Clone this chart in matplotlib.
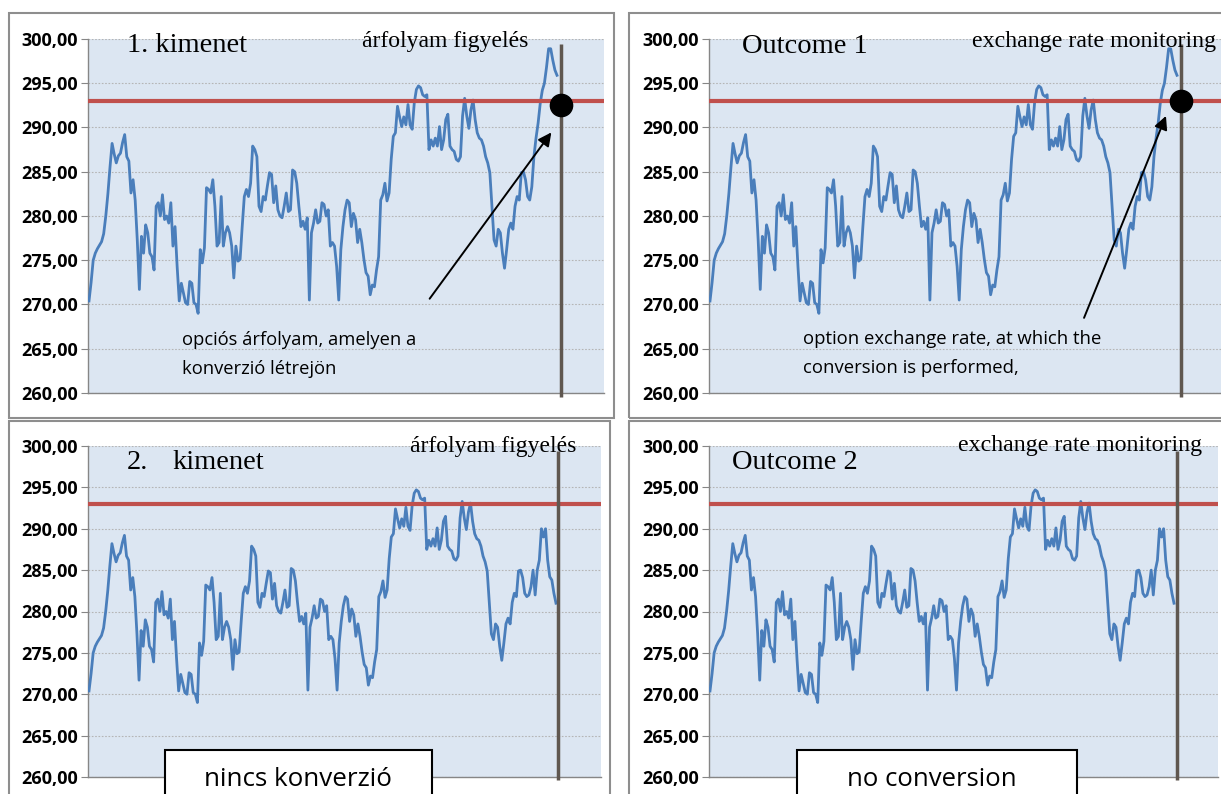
import numpy as np
import matplotlib
matplotlib.use('Agg')
import matplotlib.pyplot as plt
from matplotlib.patches import Rectangle

W, H = 1221, 794

# exchange rate series (shared part of the four panels)
common = [270.4, 272.5, 275.0, 275.8, 276.3, 276.7, 277.1, 278.0, 280.0, 282.5, 285.5, 288.2,
          287.0, 286.0, 286.8, 287.1, 288.3, 289.2, 286.7, 286.2, 282.6, 284.1,
          281.8, 277.3, 271.7, 277.7, 275.8, 279.0, 278.1, 275.8, 275.4, 273.9, 281.1, 281.5,
          280.0, 282.4, 279.6, 280.0, 279.2, 281.5, 276.6, 278.8, 274.3, 270.4, 272.4, 271.3,
          270.2, 270.0, 272.6, 272.4, 270.2, 270.0, 269.0, 276.2, 274.7, 276.4, 283.2, 283.0,
          282.6, 284.1, 281.1, 276.6, 277.0, 282.2, 276.6, 278.1, 278.8, 278.1, 276.6, 273.0,
          276.6, 274.9, 275.1, 278.8, 282.2, 283.0, 282.2, 283.7, 287.9, 287.5, 286.7, 281.1,
          280.5, 282.2, 281.8, 283.4, 284.9, 284.7, 281.5, 283.4, 280.7, 280.0, 279.8, 281.1,
          282.6, 280.5, 280.7, 285.2, 285.0, 283.7, 281.1, 278.8, 279.4, 278.5, 279.8, 270.5,
          278.1, 279.2, 280.7, 279.2, 279.4, 281.5, 281.3, 280.0, 280.7, 276.6, 277.0, 276.6,
          274.3, 270.5, 276.2, 278.8, 280.7, 281.8, 281.5, 278.8, 280.3, 279.6, 277.0, 278.5,
          277.0, 275.1, 273.6, 273.2, 271.1, 272.2, 272.0, 273.9, 275.4, 281.8, 282.4, 283.7,
          281.7, 282.6, 286.4, 289.0, 289.4, 292.4, 291.2, 290.1, 291.2, 290.3, 292.6, 290.3,
          289.8, 292.8, 294.3, 294.7, 294.5, 293.7, 293.5, 293.7, 287.5, 288.6, 287.9, 288.8,
          287.9, 290.1, 287.5, 288.6, 290.9, 291.5, 287.9, 287.5, 287.3, 286.4, 286.2, 286.7,
          291.3, 293.3, 291.3, 289.9, 292.0, 293.1, 290.9, 289.4, 288.8, 288.6, 287.9, 286.7,
          286.0, 284.9, 281.1, 277.3, 276.6, 278.5, 278.1, 275.8, 274.1, 276.2, 278.5, 279.2,
          278.5, 281.1, 282.2, 281.8, 284.9, 285.0, 284.1, 282.2, 281.8]
# end of the series, outcome 1 (rate goes above the option rate)
tail_1 = [283.3, 286.7, 288.8, 290.5, 292.7, 294.2, 295.0, 296.8, 298.9, 298.9, 297.6,
          296.5, 295.9]
# end of the series, outcome 2 (rate stays below)
tail_2 = [282.0, 283.0, 285.0, 282.0, 285.0, 286.2, 290.0, 289.0, 290.0, 286.2, 284.2,
          283.8, 282.2, 281.0]

option_rate = 293.0
conversion_rate = 292.5
yticks = [260, 265, 270, 275, 280, 285, 290, 295, 300]
ytick_labels = ['260,00', '265,00', '270,00', '275,00', '280,00', '285,00', '290,00',
                '295,00', '300,00']

blue = '#4a7ebb'
red = '#c0504d'
bg = '#dce6f2'

fig = plt.figure(figsize=(W / 100, H / 100), dpi=100)


def frac(x, y):
    return x / W, 1 - y / H


def frame(x0, y0, x1, y1, ec='#8e8e8e', fc='none', lw=1.5, z=0):
    r = Rectangle(frac(x0, y1), (x1 - x0) / W, (y1 - y0) / H, transform=fig.transFigure,
                  ec=ec, fc=fc, lw=lw, zorder=z)
    fig.patches.append(r)


def ftext(x, y, s, **kw):
    fx, fy = frac(x, y)
    fig.text(fx, fy, s, **kw)


def panel(box, series, x_start, x_end, x_monitor):
    left, top, right, bottom = box
    ax = fig.add_axes([left / W, 1 - bottom / H, (right - left) / W, (bottom - top) / H])
    n = len(series)
    ppi = (x_end - x_start) / (n - 1)
    days = np.arange(n)
    ax.set_xlim((left - x_start) / ppi, (right - x_start) / ppi)
    ax.set_ylim(260, 300)
    ax.set_facecolor(bg)
    ax.set_yticks(yticks)
    ax.set_yticklabels(ytick_labels, fontsize=13, fontweight='bold',
                       family=['Liberation Sans Narrow', 'Open Sans'])
    ax.set_xticks([])
    ax.grid(axis='y', color='#b5b5b5', linestyle=(0, (1.5, 1.5)), lw=0.8)
    ax.tick_params(axis='y', length=5, color='#868686', pad=2)
    for s in ['top', 'right']:
        ax.spines[s].set_visible(False)
    for s in ['left', 'bottom']:
        ax.spines[s].set_color('#868686')
        ax.spines[s].set_linewidth(1.0)
    ax.plot(days, series, color=blue, lw=2.0, zorder=3)
    ax.axhline(option_rate, color=red, lw=3, zorder=4)
    xm = (x_monitor - x_start) / ppi
    ax.vlines(xm, 259.6, 299.4, color='#5f5750', lw=2.5, zorder=5, clip_on=False)
    return ax, ppi, x_start


# panel frames
frame(9, 13, 614, 418)
frame(629, 13, 1230, 418)
frame(9, 421, 610, 800)
frame(629, 421, 1230, 800)

# top left
ax, ppi, x0 = panel((88, 39, 604, 393), common + tail_1, 89, 557, 561)
ax.plot((561 - x0) / ppi, conversion_rate, 'o', color='black', ms=16, zorder=6, clip_on=False)
ax.annotate('', xy=((553 - x0) / ppi, 289.7), xytext=((428 - x0) / ppi, 270.4),
            arrowprops=dict(arrowstyle='-|>', color='black', lw=1.4, mutation_scale=20))
ftext(127, 52, '1. kimenet', fontsize=20.5, family='Liberation Serif')
ftext(362, 47, 'árfolyam figyelés', fontsize=17, family='Liberation Serif')
ftext(182, 345, 'opciós árfolyam, amelyen a', fontsize=13.2, family='Open Sans')
ftext(182, 374, 'konverzió létrejön', fontsize=13.2, family='Open Sans')

# top right
ax, ppi, x0 = panel((709, 39, 1221, 393), common + tail_1, 710, 1177, 1181)
ax.plot((1181 - x0) / ppi, option_rate, 'o', color='black', ms=16, zorder=6, clip_on=False)
ax.annotate('', xy=((1167 - x0) / ppi, 291.6), xytext=((1083 - x0) / ppi, 268.2),
            arrowprops=dict(arrowstyle='-|>', color='black', lw=1.4, mutation_scale=20))
ftext(742, 53, 'Outcome 1', fontsize=20.5, family='Liberation Serif')
ftext(972, 47, 'exchange rate monitoring', fontsize=17.2, family='Liberation Serif')
ftext(803, 344, 'option exchange rate, at which the', fontsize=13.3, family='Open Sans')
ftext(803, 373, 'conversion is performed,', fontsize=13.3, family='Open Sans')

# bottom left
ax, ppi, x0 = panel((88, 446, 601, 777), common + tail_2, 89, 556, 558)
ftext(127, 469, '2.', fontsize=20.5, family='Liberation Serif')
ftext(172, 469, 'kimenet', fontsize=20.5, family='Liberation Serif')
ftext(410, 452, 'árfolyam figyelés', fontsize=17, family='Liberation Serif')
frame(165, 750, 432, 800, ec='black', fc='white', lw=1.5, z=10)
ftext(298, 780, 'nincs konverzió', fontsize=18.7, family='Open Sans', ha='center', va='center',
      zorder=11)

# bottom right
ax, ppi, x0 = panel((709, 446, 1218, 777), common + tail_2, 710, 1174, 1177)
ftext(732, 469, 'Outcome 2', fontsize=20.5, family='Liberation Serif')
ftext(958, 451, 'exchange rate monitoring', fontsize=17.2, family='Liberation Serif')
frame(797, 750, 1077, 800, ec='black', fc='white', lw=1.5, z=10)
ftext(932, 780, 'no conversion', fontsize=18.5, family='Open Sans', ha='center', va='center',
      zorder=11)

fig.savefig('out.png', dpi=100)
